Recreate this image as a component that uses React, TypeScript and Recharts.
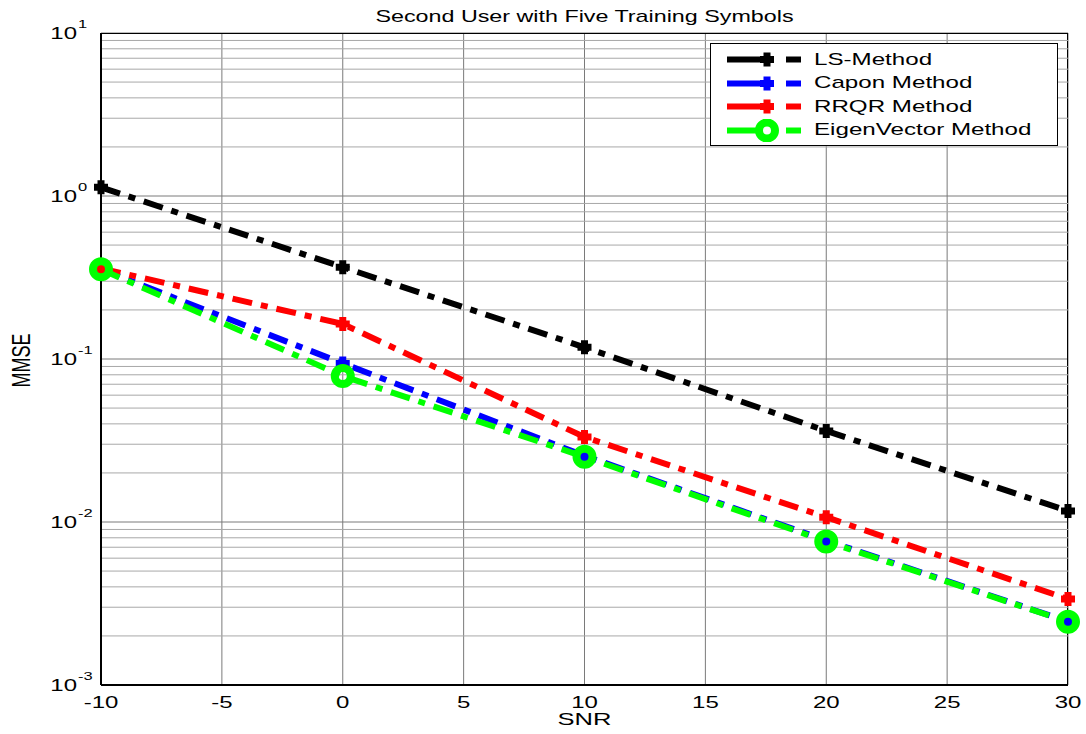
import React from 'react';
import { LineChart, Line, XAxis, YAxis, CartesianGrid, ReferenceLine, ReferenceArea } from 'recharts';

// SNR points (dB)
const snr = [-10, 0, 10, 20, 30];

// MMSE values
const lsMethod = [1.13, 0.366, 0.118, 0.0362, 0.0117];
const caponMethod = [0.355, 0.094, 0.0255, 0.0077, 0.00245];
const rrqrMethod = [0.36, 0.164, 0.0332, 0.0107, 0.00337];
const eigenMethod = [0.355, 0.0787, 0.0251, 0.0076, 0.00244];

const xTicks = [-10, -5, 0, 5, 10, 15, 20, 25, 30];
const yTicks = [0.001, 0.01, 0.1, 1, 10];
const yExponents = ['-3', '-2', '-1', '0', '1'];
const minorMultipliers = [2, 3, 4, 5, 6, 7, 8, 9];
const minorDecades = [0.001, 0.01, 0.1, 1];

const series = [
  { key: 'ls', name: 'LS-Method', color: '#000000', marker: 'plus' },
  { key: 'capon', name: 'Capon Method', color: '#0000ff', marker: 'plus' },
  { key: 'rrqr', name: 'RRQR Method', color: '#ff0000', marker: 'plus' },
  { key: 'eigen', name: 'EigenVector Method', color: '#00ff00', marker: 'circle' },
];

const data = snr.map((s, i) => ({
  snr: s,
  ls: lsMethod[i],
  capon: caponMethod[i],
  rrqr: rrqrMethod[i],
  eigen: eigenMethod[i],
}));

const minorLines = minorDecades.flatMap((d) => minorMultipliers.map((m) => m * d));

const FONT = '"Liberation Sans", Arial, sans-serif';
const DASH = '20 9 7 9';
const STRETCH = 1.5; // the original figure is stretched horizontally
const AXIS_X = 101;

const Marker = ({ cx, cy, color, kind }: any) => {
  if (cx == null || cy == null) return null;
  if (kind === 'circle') {
    return <circle cx={cx} cy={cy} r={8} fill="none" stroke={color} strokeWidth={8} />;
  }
  return (
    <path
      d={`M${cx - 7},${cy} L${cx + 7},${cy} M${cx},${cy - 7} L${cx},${cy + 7}`}
      stroke={color}
      strokeWidth={7}
      fill="none"
    />
  );
};

const YTick = ({ y, payload }: any) => {
  const idx = yTicks.indexOf(payload.value);
  return (
    <g fontFamily={FONT} fill="#000">
      <text transform={`translate(${AXIS_X - 24},${y + 6}) scale(${STRETCH},1)`} textAnchor="end" fontSize={16}>10</text>
      <text transform={`translate(${AXIS_X - 23},${y - 5}) scale(${STRETCH},1)`} textAnchor="start" fontSize={11}>{yExponents[idx]}</text>
    </g>
  );
};

const XTick = ({ x, payload }: any) => (
  <text
    transform={`translate(${x},708) scale(${STRETCH},1)`}
    textAnchor="middle"
    fontSize={16}
    fontFamily={FONT}
    fill="#000"
  >
    {payload.value}
  </text>
);

const LegendBox = () => (
  <div
    style={{
      position: 'absolute',
      left: 710,
      top: 43,
      background: '#fff',
      border: '1px solid #000',
      width: 348,
      height: 103,
      boxSizing: 'border-box',
      padding: '4px 0 0 0',
      fontFamily: FONT,
      fontSize: 17,
    }}
  >
    {series.map((s) => (
      <div key={s.key} style={{ display: 'flex', alignItems: 'center', height: 23.5 }}>
        <svg width={100} height={23} style={{ flex: 'none' }}>
          <line x1={16} y1={11.5} x2={50} y2={11.5} stroke={s.color} strokeWidth={6} />
          <line x1={75} y1={11.5} x2={90} y2={11.5} stroke={s.color} strokeWidth={6} />
          <Marker cx={56} cy={11.5} color={s.color} kind={s.marker} />
        </svg>
        <span style={{ marginLeft: 3, display: 'inline-block', transform: `scaleX(1.42)`, transformOrigin: 'left center', whiteSpace: 'nowrap' }}>
          {s.name}
        </span>
      </div>
    ))}
  </div>
);

export default function App() {
  return (
    <div style={{ position: 'absolute', left: 0, top: 0, width: 1086, height: 734, background: '#fff', overflow: 'hidden' }}>
      <LineChart
        width={1086}
        height={734}
        data={data}
        margin={{ top: 33, right: 18, bottom: 0, left: 0 }}
      >
        <CartesianGrid stroke="#7a7a7a" strokeWidth={1} />
        {minorLines.map((v) => (
          <ReferenceLine key={v} y={v} stroke="#a8a8a8" strokeWidth={1} ifOverflow="hidden" />
        ))}
        <XAxis
          dataKey="snr"
          type="number"
          domain={[-10, 30]}
          ticks={xTicks}
          height={49}
          tickLine={false}
          axisLine={{ stroke: '#000', strokeWidth: 2 }}
          tick={<XTick />}
        />
        <YAxis
          type="number"
          scale="log"
          domain={[0.001, 10]}
          ticks={yTicks}
          allowDataOverflow
          width={AXIS_X}
          tickLine={false}
          axisLine={{ stroke: '#000', strokeWidth: 2 }}
          tick={<YTick />}
        />
        <ReferenceArea x1={-10} x2={30} y1={0.001} y2={10} fill="none" stroke="#000" strokeWidth={2} ifOverflow="hidden" />
        {series.map((s) => (
          <Line
            key={s.key}
            type="linear"
            dataKey={s.key}
            name={s.name}
            stroke={s.color}
            strokeWidth={6}
            strokeDasharray={DASH}
            isAnimationActive={false}
            dot={(p: any) => <Marker key={`${s.key}-${p.index}`} cx={p.cx} cy={p.cy} color={s.color} kind={s.marker} />}
            activeDot={false}
          />
        ))}
      </LineChart>
      <div
        style={{
          position: 'absolute',
          left: 101,
          width: 967,
          top: 7,
          textAlign: 'center',
          fontFamily: FONT,
          fontSize: 17,
          transform: 'scaleX(1.37)',
        }}
      >
        Second User with Five Training Symbols
      </div>
      <div
        style={{
          position: 'absolute',
          left: 101,
          width: 967,
          top: 710,
          textAlign: 'center',
          fontFamily: FONT,
          fontSize: 17,
          transform: `scaleX(${STRETCH})`,
        }}
      >
        SNR
      </div>
      <div
        style={{
          position: 'absolute',
          left: -28,
          width: 100,
          top: 350,
          textAlign: 'center',
          fontFamily: FONT,
          fontSize: 18,
          transform: 'rotate(-90deg) scaleY(1.4)',
        }}
      >
        MMSE
      </div>
      <LegendBox />
    </div>
  );
}
